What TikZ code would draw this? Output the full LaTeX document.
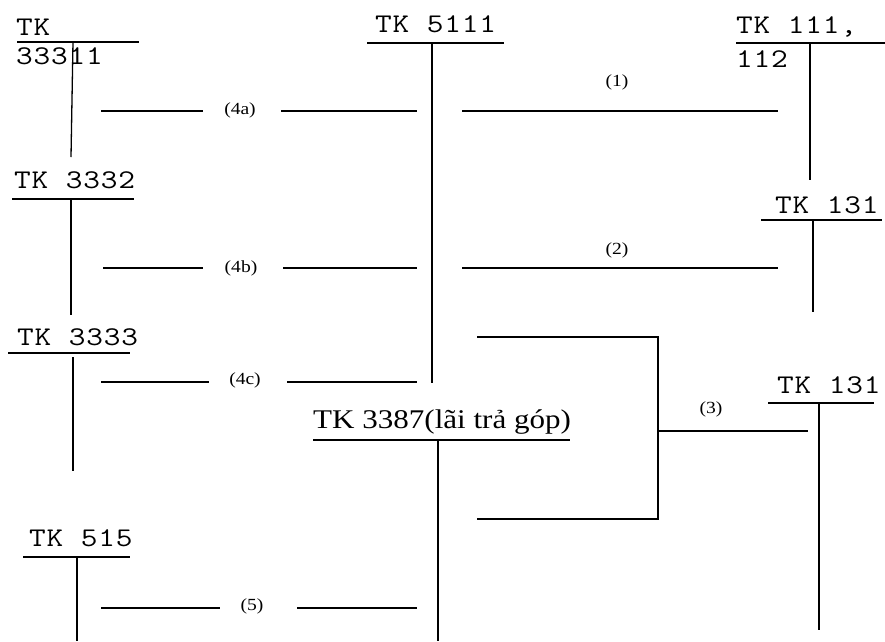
\documentclass[tikz,border=0pt]{standalone}
\usepackage{fontspec}
\setmainfont{Liberation Serif}[FakeStretch=1.15]
\newfontfamily\tkmono{Latin Modern Mono}[FakeStretch=1.2,LetterSpace=3]
\begin{document}
\begin{tikzpicture}[x=1pt,y=-1pt,
  acct/.style={anchor=base west,inner sep=0pt,font=\tkmono\fontsize{27}{32}\selectfont},
  acctser/.style={anchor=base west,inner sep=0pt,font=\fontsize{27}{32}\selectfont},
  lbl/.style={anchor=center,inner sep=0pt,font=\fontsize{17}{20}\selectfont},
  ln/.style={line width=1.3pt}]
\useasboundingbox (0,0) rectangle (885,641);
% ---- account titles
\node[acct] (t33311a) at (16,35) {TK};
\node[acct] (t33311b) at (16,64) {33311};
\node[acct] (t5111) at (375,32) {TK 5111};
\node[acct] (t111a) at (736,33) {TK 111,};
\node[acct] (t111b) at (736,67) {112};
\node[acct] (t131a) at (775,213) {TK 131};
\node[acct] (t3332) at (14,188) {TK 3332};
\node[acct] (t3333) at (17,345) {TK 3333};
\node[acct] (t515) at (29,546) {TK 515};
\node[acct] (t131b) at (777,393) {TK 131};
\node[acctser] (t3387) at (313,428) {TK 3387(lãi trả góp)};
% ---- flow labels
\node[lbl] (l1) at (617,82) {(1)};
\node[lbl] (l2) at (617,250) {(2)};
\node[lbl] (l3) at (711,409) {(3)};
\node[lbl] (l4a) at (240,110) {(4a)};
\node[lbl] (l4b) at (241,268) {(4b)};
\node[lbl] (l4c) at (245,380) {(4c)};
\node[lbl] (l5) at (252,606) {(5)};
% ---- T-account coordinates
\coordinate (a1L) at (17,42);  \coordinate (a1R) at (139,42);
\coordinate (a1T) at (73,42);  \coordinate (a1B) at (71,157);
\coordinate (a2L) at (367,43); \coordinate (a2R) at (504,43);
\coordinate (a2T) at (432,43); \coordinate (a2B) at (432,383);
\coordinate (a3L) at (736,43); \coordinate (a3R) at (885,43);
\coordinate (a3T) at (810,43); \coordinate (a3B) at (810,180);
\coordinate (a4L) at (761,220); \coordinate (a4R) at (882,220);
\coordinate (a4T) at (813,220); \coordinate (a4B) at (813,312);
\coordinate (a5L) at (12,199); \coordinate (a5R) at (134,199);
\coordinate (a5T) at (71,199); \coordinate (a5B) at (71,315);
\coordinate (a6L) at (8,353);  \coordinate (a6R) at (130,353);
\coordinate (a6T) at (73,357); \coordinate (a6B) at (73,471);
\coordinate (a7L) at (313,440); \coordinate (a7R) at (570,440);
\coordinate (a7T) at (438,440); \coordinate (a7B) at (438,641);
\coordinate (a8L) at (23,557); \coordinate (a8R) at (130,557);
\coordinate (a8T) at (77,557); \coordinate (a8B) at (77,641);
\coordinate (a9L) at (768,403); \coordinate (a9R) at (874,403);
\coordinate (a9T) at (819,403); \coordinate (a9B) at (819,630);
\foreach \i in {1,...,9}{
  \draw[ln] (a\i L) -- (a\i R);
  \draw[ln] (a\i T) -- (a\i B);
}
% ---- flow line coordinates
\coordinate (f1s) at (462,111); \coordinate (f1e) at (778,111);
\coordinate (f2s) at (462,268); \coordinate (f2e) at (778,268);
\coordinate (f4as) at (101,111); \coordinate (f4am) at (203,111);
\coordinate (f4an) at (281,111); \coordinate (f4ae) at (417,111);
\coordinate (f4bs) at (103,268); \coordinate (f4bm) at (203,268);
\coordinate (f4bn) at (283,268); \coordinate (f4be) at (417,268);
\coordinate (f4cs) at (101,382); \coordinate (f4cm) at (209,382);
\coordinate (f4cn) at (287,382); \coordinate (f4ce) at (417,382);
\coordinate (f5s) at (101,608); \coordinate (f5m) at (220,608);
\coordinate (f5n) at (297,608); \coordinate (f5e) at (417,608);
\coordinate (b1) at (477,337); \coordinate (b2) at (658,337);
\coordinate (b3) at (658,519); \coordinate (b4) at (477,519);
\coordinate (bm) at (658,431); \coordinate (be) at (808,431);
\draw[ln] (f1s) -- (f1e);
\draw[ln] (f2s) -- (f2e);
\draw[ln] (f4as) -- (f4am); \draw[ln] (f4an) -- (f4ae);
\draw[ln] (f4bs) -- (f4bm); \draw[ln] (f4bn) -- (f4be);
\draw[ln] (f4cs) -- (f4cm); \draw[ln] (f4cn) -- (f4ce);
\draw[ln] (f5s) -- (f5m); \draw[ln] (f5n) -- (f5e);
\draw[ln] (b1) -- (b2) -- (b3) -- (b4);
\draw[ln] (bm) -- (be);
\end{tikzpicture}
\end{document}
